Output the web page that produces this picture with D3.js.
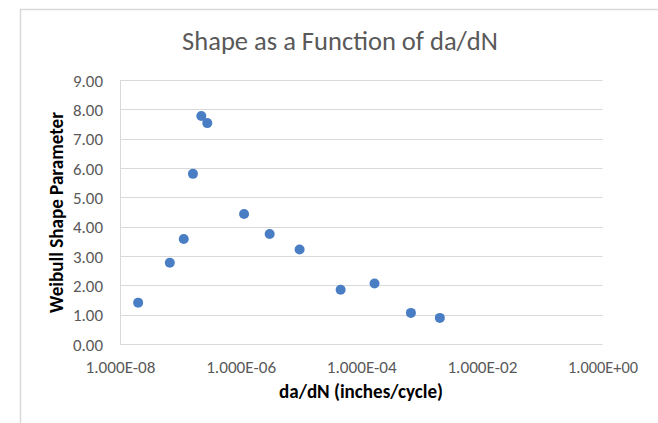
<!DOCTYPE html>
<html>
<head>
<meta charset="utf-8">
<script src="https://cdn.jsdelivr.net/npm/d3@7"></script>
<style>
  html, body { margin: 0; padding: 0; background: #fff; }
  svg { display: block; }
  text { font-family: Carlito, Calibri, Lato, sans-serif; }
</style>
</head>
<body>
<svg id="chart" width="658" height="423"></svg>
<script>
// ---- data ----
const daDN = [2.0e-8, 6.7e-8, 1.14e-7, 1.62e-7, 2.23e-7, 2.8e-7, 1.14e-6, 3.03e-6, 9.5e-6, 4.55e-5, 1.66e-4, 6.66e-4, 2.01e-3];
const shape = [1.41, 2.77, 3.58, 5.80, 7.77, 7.53, 4.43, 3.75, 3.22, 1.85, 2.06, 1.06, 0.89];
const xTicks = [1e-8, 1e-6, 1e-4, 1e-2, 1];
const xTickLabels = ["1.000E-08", "1.000E-06", "1.000E-04", "1.000E-02", "1.000E+00"];
const yTicks = [0, 1, 2, 3, 4, 5, 6, 7, 8, 9];
const yTickLabels = ["0.00", "1.00", "2.00", "3.00", "4.00", "5.00", "6.00", "7.00", "8.00", "9.00"];
const titleText = "Shape as a Function of da/dN";
const xTitle = "da/dN (inches/cycle)";
const yTitle = "Weibull Shape Parameter";

// ---- layout ----
const svg = d3.select("#chart");
const plot = { left: 120, right: 602.5, top: 80, bottom: 344 };
const grid = "#d9d9d9";

// chart area border
svg.append("rect")
  .attr("x", 20.5).attr("y", 9.5)
  .attr("width", 700).attr("height", 500)
  .attr("fill", "#fff").attr("stroke", grid).attr("stroke-width", 1.5);

const x = d3.scaleLog().domain([1e-8, 1]).range([plot.left, plot.right]);
const y = d3.scaleLinear().domain([0, 9]).range([plot.bottom, plot.top]);

// fit a text element's font size to a target width
function fit(sel, target, base) {
  sel.style("font-size", base + "px");
  const w = sel.node().getComputedTextLength();
  sel.style("font-size", (base * target / w) + "px");
}

// gridlines
svg.append("g")
  .selectAll("line").data(yTicks).join("line")
  .attr("x1", plot.left).attr("x2", plot.right)
  .attr("y1", d => Math.round(y(d)) + 0.5).attr("y2", d => Math.round(y(d)) + 0.5)
  .attr("stroke", grid).attr("stroke-width", 1);

// y axis line
svg.append("line")
  .attr("x1", plot.left + 0.5).attr("x2", plot.left + 0.5)
  .attr("y1", plot.top).attr("y2", plot.bottom + 0.5)
  .attr("stroke", grid).attr("stroke-width", 1);

// y axis labels
const yAxis = d3.axisLeft(y).tickValues(yTicks)
  .tickFormat((d, i) => yTickLabels[i]).tickSize(0).tickPadding(0);
const gy = svg.append("g").attr("transform", `translate(${plot.left - 17},0)`).call(yAxis);
gy.select(".domain").remove();
gy.selectAll("text").attr("fill", "#595959").attr("dy", "0.36em")
  .style("font-family", "Carlito, Calibri, Lato, sans-serif")
  .each(function () { fit(d3.select(this), 30, 16); });

// x axis labels
const xAxis = d3.axisBottom(x).tickValues(xTicks)
  .tickFormat((d, i) => xTickLabels[i]).tickSize(0).tickPadding(0);
const gx = svg.append("g").attr("transform", `translate(0,${plot.bottom})`).call(xAxis);
gx.select(".domain").remove();
gx.selectAll("text").attr("fill", "#595959").attr("dy", null).attr("y", 28.5)
  .style("font-family", "Carlito, Calibri, Lato, sans-serif")
  .each(function () { fit(d3.select(this), 70, 16); });

// points
svg.append("g")
  .selectAll("circle").data(daDN.map((d, i) => [d, shape[i]])).join("circle")
  .attr("cx", d => x(d[0])).attr("cy", d => y(d[1]))
  .attr("r", 5).attr("fill", "#4a7ec4");

// title
const t = svg.append("text").attr("x", 340).attr("y", 50)
  .attr("text-anchor", "middle").attr("fill", "#595959").text(titleText);
fit(t, 316, 24);

// x title
const xt = svg.append("text").attr("x", 361).attr("y", 398)
  .attr("text-anchor", "middle").attr("fill", "#000").attr("font-weight", "bold").text(xTitle);
fit(xt, 164, 17);

// y title
const yt = svg.append("text").attr("transform", "translate(63,212.5) rotate(-90)")
  .attr("text-anchor", "middle").attr("fill", "#000").attr("font-weight", "bold").text(yTitle);
fit(yt, 201, 17);
</script>
</body>
</html>
